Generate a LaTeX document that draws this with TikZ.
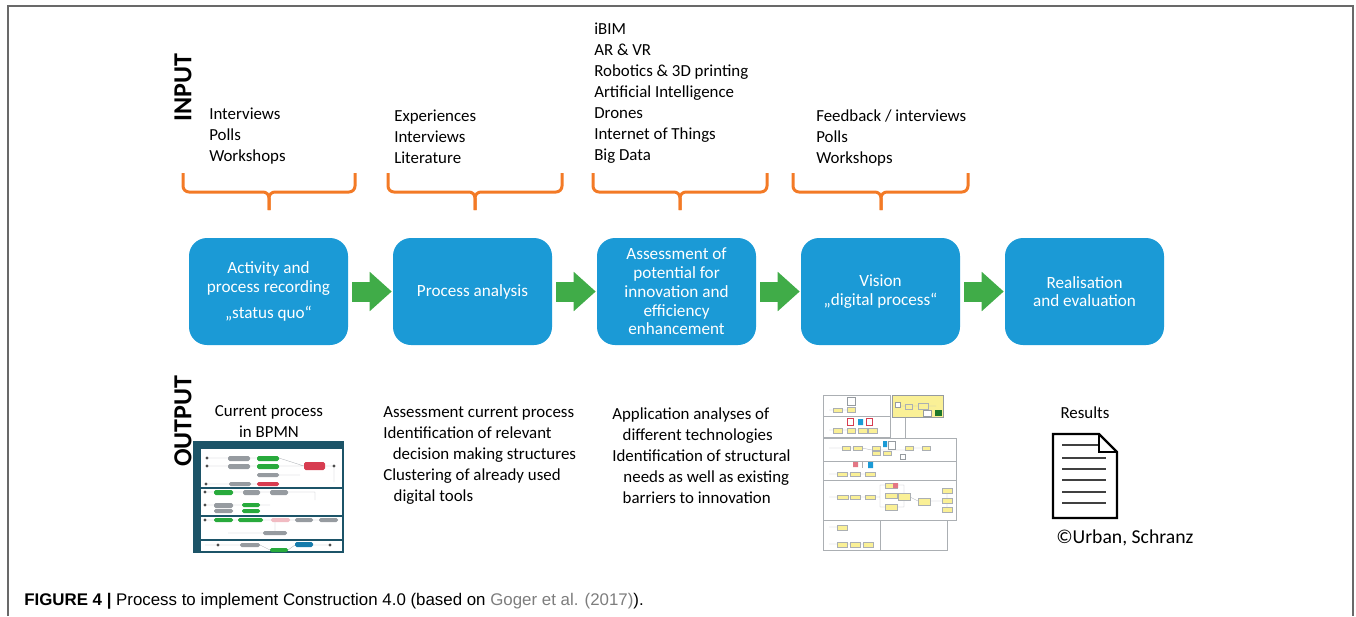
\documentclass[tikz,border=0pt]{standalone}
\usepackage{fontspec}
\setmainfont{Carlito}
\newfontfamily\capfont{Liberation Sans}
\usetikzlibrary{arrows.meta}
\definecolor{procblue}{RGB}{27,154,214}
\definecolor{flowgreen}{RGB}{64,172,72}
\definecolor{braceorange}{RGB}{243,122,38}
\definecolor{framegray}{RGB}{105,105,105}
\definecolor{laneteal}{RGB}{28,84,104}
\definecolor{taskgray}{RGB}{150,155,160}
\definecolor{taskgreen}{RGB}{40,170,60}
\definecolor{taskred}{RGB}{215,60,80}
\definecolor{taskyellow}{RGB}{250,240,150}
\definecolor{citegray}{RGB}{125,125,125}
\tikzset{
  procbox/.style={rectangle, rounded corners=4.5mm, minimum width=39.75mm, minimum height=26.75mm,
    fill=procblue, text=white, align=center, inner sep=0pt, font=\fontsize{12.2}{13.3}\selectfont},
  listtext/.style={anchor=north west, align=left, inner sep=0pt, font=\fontsize{12}{14.9}\selectfont},
  sidelabel/.style={rotate=90, inner sep=0pt, font=\bfseries\fontsize{18.5}{20}\selectfont},
  brace/.style={draw=braceorange, line width=0.75mm, rounded corners=1.5mm},
  flowarrow/.style={draw=flowgreen, line width=5mm, -{Triangle[length=5.5mm, width=9.5mm]},
    shorten <=1mm, shorten >=0.25mm},
  task/.style={rounded corners=0.4mm},
  lane/.style={draw=taskgray!80, line width=0.15mm},
  wire/.style={draw=taskgray!70, line width=0.1mm}
}
\begin{document}
\begin{tikzpicture}[x=0.25mm, y=-0.25mm]
	\useasboundingbox (0,0) rectangle (1356,616);
	\draw[framegray, line width=0.4mm] (8,616) -- (8,6) -- (1353,6) -- (1353,616);

	\node[sidelabel] (inlab) at (183,88) {INPUT};
	\node[sidelabel] (outlab) at (183,421) {OUTPUT};

	% input lists
	\node[listtext] (in1) at (209,107.5) {Interviews\\Polls\\Workshops};
	\node[listtext] (in2) at (394,109.5) {Experiences\\Interviews\\Literature};
	\node[listtext] (in3) at (594,22.5) {iBIM\\AR \& VR\\Robotics \& 3D printing\\Artificial Intelligence\\Drones\\Internet of Things\\Big Data};
	\node[listtext] (in4) at (816,109.5) {Feedback / interviews\\Polls\\Workshops};

	% braces
	\draw[brace] (183,173) -- (183,192) -- (269,192) -- (269,210);
	\draw[brace] (355,173) -- (355,192) -- (269,192) -- (269,210);
	\draw[brace] (388,173) -- (388,192) -- (475,192) -- (475,210);
	\draw[brace] (562,173) -- (562,192) -- (475,192) -- (475,210);
	\draw[brace] (593,173) -- (593,192) -- (680,192) -- (680,210);
	\draw[brace] (767,173) -- (767,192) -- (680,192) -- (680,210);
	\draw[brace] (793,173) -- (793,192) -- (881,192) -- (881,210);
	\draw[brace] (968,173) -- (968,192) -- (881,192) -- (881,210);

	% process steps
	\node[procbox] (rec) at (268.5,291.5) {Activity and\\process recording\\[2mm]„status quo“};
	\node[procbox] (ana) at (472.5,291.5) {Process analysis};
	\node[procbox] (pot) at (676.5,291.5) {Assessment of\\potential for\\innovation and\\efficiency\\enhancement};
	\node[procbox] (vis) at (880.5,291.5) {Vision\\„digital process“};
	\node[procbox] (real) at (1084.5,291.5) {Realisation\\and evaluation};

	\draw[flowarrow] (rec) -- (ana);
	\draw[flowarrow] (ana) -- (pot);
	\draw[flowarrow] (pot) -- (vis);
	\draw[flowarrow] (vis) -- (real);

	% output texts
	\node[listtext, anchor=north, align=center] (out1) at (269,405.5) {Current process\\in BPMN};
	\node[listtext] (out2) at (383,406.5) {Assessment current process\\Identification of relevant\\\hspace*{2.4mm}decision making structures\\Clustering of already used\\\hspace*{2.6mm}digital tools};
	\node[listtext] (out3) at (612,407.5) {Application analyses of\\\hspace*{2.6mm}different technologies\\Identification of structural\\\hspace*{2.8mm}needs as well as existing\\\hspace*{2.6mm}barriers to innovation};
	\node[listtext, anchor=north] (res) at (1085,406.5) {Results};
	\node[listtext, anchor=base west, font=\fontsize{14}{16}\selectfont] (copy) at (1056,543) {©Urban, Schranz};

	% BPMN thumbnail
	\fill[laneteal] (194,442) rectangle (343,449);
	\fill[laneteal] (194,449) rectangle (201,552);
	\draw[laneteal, line width=0.3mm] (194,442) rectangle (343,552);
	\draw[laneteal, line width=0.4mm] (194,488) -- (343,488) (194,516) -- (343,516) (194,540) -- (343,540);
	\draw[wire] (207,458) -- (228,458) (250,458) -- (257,458) (207,466) -- (228,466) (250,466) -- (257,466)
	  (279,458) -- (304,466) (279,466) -- (304,466) (325,466) -- (334,466) -- (334,482) (279,475) -- (300,475)
	  (207,484) -- (229,484) (251,484) -- (257,484) (205,492) -- (214,492) (233,492) -- (243,492) (260,492) -- (270,492)
	  (288,492) -- (315,492) -- (315,500) (205,505) -- (214,505) (233,505) -- (242,505) (260,505) -- (270,505)
	  (205,520) -- (214,520) (233,520) -- (238,520) (263,520) -- (271,520) (290,520) -- (295,520) (313,520) -- (319,520)
	  (275,522) -- (275,531) (228,533) -- (263,533) (205,545) -- (240,545) (260,545) -- (270,550) (288,550) -- (295,545) (313,545) -- (330,545);
	\fill[black!70] (207,458) circle (0.4mm) (207,466) circle (0.4mm) (206,484) circle (0.4mm) (334,466) circle (0.4mm)
	  (205,492) circle (0.4mm) (205,505) circle (0.4mm) (205,520) circle (0.4mm) (218,545) circle (0.4mm) (330,545) circle (0.4mm);
	\fill[taskgray, task] (228,456) rectangle (250,461) (228,464) rectangle (250,469) (257,473) rectangle (279,477)
	  (229,482) rectangle (251,486) (243,490) rectangle (260,495) (270,490) rectangle (288,495) (214,503) rectangle (233,508)
	  (214,509) rectangle (233,513) (295,518) rectangle (313,522) (319,518) rectangle (338,522) (263,531) rectangle (287,535)
	  (240,543) rectangle (260,547);
	\fill[taskgreen, task] (257,456) rectangle (279,461) (257,464) rectangle (279,469) (214,490) rectangle (233,495)
	  (242,503) rectangle (260,507) (242,509) rectangle (260,513) (214,518) rectangle (233,522) (238,518) rectangle (263,522)
	  (270,548) rectangle (288,552);
	\fill[taskred, task] (304,462) rectangle (325,470) (257,482) rectangle (279,486);
	\fill[taskred!35, task] (271,518) rectangle (290,522);
	\fill[procblue!80!black, task] (295,542) rectangle (313,547);

	% vision thumbnail
	\draw[lane] (823,395) rectangle (890,416) (823,416) rectangle (890,437) (823,438) rectangle (956,461)
	  (823,461) rectangle (956,480) (823,480) rectangle (956,520) (823,520) rectangle (880,550);
	\draw[lane] (947,520) -- (947,550) -- (880,550) (905,416) -- (905,438) (862,461) -- (862,468);
	\fill[taskyellow] (892,395) rectangle (943,417);
	\draw[taskgray, line width=0.1mm] (892,395) rectangle (943,417);
	\draw[wire] (829,410) -- (833,410) (842,410) -- (847,410) (829,430) -- (833,430) (842,430) -- (868,430)
	  (829,448) -- (842,448) (850,448) -- (853,448) (862,448) -- (872,450) (880,450) -- (905,450) (913,448) -- (922,448)
	  (829,474) -- (837,474) (847,474) -- (850,474) (860,474) -- (865,474) (829,497) -- (837,497) (848,497) -- (850,497)
	  (860,497) -- (865,497) (875,497) -- (880,497) -- (880,485) -- (885,485) (880,497) -- (880,507) -- (885,507)
	  (897,485) -- (904,485) -- (904,493) (897,507) -- (904,507) -- (904,500) (910,497) -- (918,501) (930,501) -- (947,501)
	  (947,493) -- (947,498) (947,503) -- (947,507) (829,527) -- (837,527) (829,544) -- (837,544) (847,544) -- (850,544)
	  (860,544) -- (863,544) (898,406) -- (905,406) (912,406) -- (918,406) (928,406) -- (936,406);
	\fill[taskyellow, draw=taskgray!80, line width=0.1mm] (833,408) rectangle (842,412) (847,407) rectangle (855,412)
	  (833,428) rectangle (842,433) (847,428) rectangle (855,433) (858,428) rectangle (867,433) (868,428) rectangle (877,433)
	  (842,446) rectangle (850,450) (853,446) rectangle (862,450) (872,446) rectangle (880,450) (872,451) rectangle (880,455)
	  (883,451) rectangle (891,455) (905,446) rectangle (913,450) (922,446) rectangle (930,450)
	  (837,472) rectangle (847,476) (850,472) rectangle (860,476) (865,472) rectangle (875,476)
	  (837,495) rectangle (848,499) (850,495) rectangle (860,499) (865,495) rectangle (875,499)
	  (885,483) rectangle (897,488) (885,493) rectangle (897,498) (885,504) rectangle (897,510) (898,493) rectangle (910,500)
	  (918,498) rectangle (930,505) (942,488) rectangle (952,493) (942,498) rectangle (952,503) (942,507) rectangle (952,512)
	  (837,525) rectangle (847,530) (837,542) rectangle (847,547) (850,542) rectangle (860,547) (863,542) rectangle (873,547)
	  (905,404) rectangle (912,409) (918,403) rectangle (928,409);
	\draw[taskgray, line width=0.1mm, fill=white] (847,397) rectangle (855,405) (895,402) rectangle (900,407)
	  (923,410) rectangle (931,416) (888,441) rectangle (895,449) (900,454) rectangle (905,459);
	\fill[taskgreen!70!black] (935,410) rectangle (942,416);
	\fill[procblue] (858,419) rectangle (863,425) (868,462) rectangle (873,468) (883,441) rectangle (887,447);
	\draw[taskred, line width=0.15mm] (847,418) rectangle (853,425) (866,418) rectangle (872,425);
	\fill[taskred!70] (853,462) rectangle (858,467) (893,483) rectangle (898,488);

	% results document
	\draw[line width=0.6mm, line join=miter] (1053,434) -- (1099,434) -- (1117,452) -- (1117,518) -- (1053,518) -- cycle;
	\draw[line width=0.6mm] (1099,434) -- (1099,452) -- (1117,452);
	\draw[black!75, line width=0.5mm] (1062,445) -- (1098,445) (1062,458) -- (1106,458) (1062,469) -- (1106,469)
	  (1062,480) -- (1106,480) (1062,492) -- (1106,492) (1062,503) -- (1106,503);

	% caption
	\node[anchor=base west, inner sep=0pt, font=\capfont\fontsize{12}{14}\selectfont] (caption) at (24,605)
	  {\textbf{FIGURE 4 |} Process to implement Construction 4.0 (based on \textcolor{citegray}{Goger et al. (2017)}).};
\end{tikzpicture}
\end{document}
